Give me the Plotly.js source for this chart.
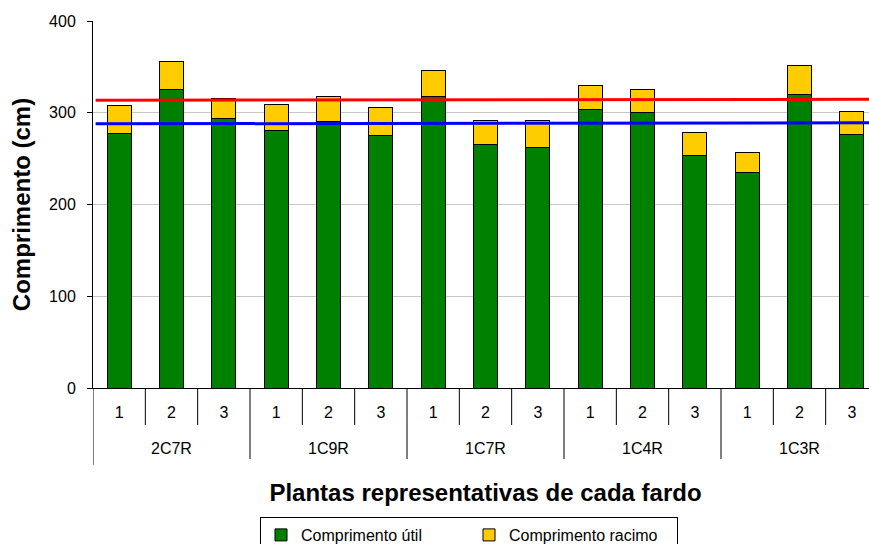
<!DOCTYPE html>
<html>
<head>
<meta charset="utf-8">
<script src="https://cdn.plot.ly/plotly-3.0.1.min.js"></script>
<style>
html,body{margin:0;padding:0;overflow:hidden;background:#fff;}
#chart{width:900px;height:544px;}
</style>
</head>
<body>
<div id="chart"></div>
<script>
// ---- data ----
var groups = ["2C7R", "1C9R", "1C7R", "1C4R", "1C3R"];
var subLabels = ["1","2","3","1","2","3","1","2","3","1","2","3","1","2","3"];
var util =    [277, 325, 294, 281, 291, 275.5, 318, 265.5, 262.5, 304, 300, 253, 235, 319.5, 276];
var racimo =  [31, 31, 21.5, 28.5, 27, 30, 28.5, 26, 29, 25.5, 25, 25.5, 21.5, 31.5, 25];
var redLine = [313.6, 314.7];
var blueLine = [287.9, 289.1];
var seriesNames = ["Comprimento útil", "Comprimento racimo"];

var FONT = "Liberation Sans, Arial, sans-serif";
var idx = subLabels.map(function(_, i){ return i; });
var n = subLabels.length;
var perGroup = n / groups.length;

var traces = [
  {type:"bar", x: idx, y: util, name: seriesNames[0], width: 0.46,
   marker:{color:"#008000", line:{color:"#000000", width:1}}, hoverinfo:"y"},
  {type:"bar", x: idx, y: racimo, name: seriesNames[1], width: 0.46,
   marker:{color:"#FFCC00", line:{color:"#000000", width:1}}, hoverinfo:"y"},
  {type:"scatter", mode:"lines", x:[-0.45, n - 0.5], y: redLine, showlegend:false,
   line:{color:"#FF0000", width:3}, hoverinfo:"skip"},
  {type:"scatter", mode:"lines", x:[-0.45, n - 0.5], y: blueLine, showlegend:false,
   line:{color:"#0000FF", width:3}, hoverinfo:"skip"}
];

// divider shapes below the axis
var H = 544, W = 900;
var plotH = 388 - 21;
function py(px){ return -(px - 388) / plotH; }
var shapes = [];
for (var b = 0; b <= n; b++) {
  var isGroup = (b % perGroup === 0);
  var bottom = (b === 0) ? 465 : (isGroup ? 459 : 425);
  shapes.push({type:"line", xref:"x", yref:"paper", x0: b - 0.5, x1: b - 0.5,
               y0: 0, y1: py(bottom), line:{color:"#000000", width:1}});
}

var annotations = groups.map(function(g, gi){
  return {text: g, xref:"x", yref:"paper", x: gi * perGroup + (perGroup - 1) / 2,
          y: py(448), yanchor:"middle", xanchor:"center", showarrow:false,
          font:{family: FONT, size:16, color:"#000"}};
});

var layout = {
  width: W, height: H,
  margin: {l: 93, r: 22, t: 21, b: 156, pad: 0},
  paper_bgcolor: "#ffffff", plot_bgcolor: "#ffffff",
  barmode: "stack",
  font: {family: FONT, color: "#000"},
  showlegend: true,
  legend: {orientation:"h", xref:"container", yref:"container",
           x: 260 / W, xanchor:"left", y: 1 - 517 / H, yanchor:"top",
           bordercolor:"#000000", borderwidth:1, bgcolor:"#ffffff",
           font:{family: FONT, size:16, color:"#000"}, entrywidth: 163, traceorder:"normal"},
  xaxis: {
    range: [-0.5, n - 0.5], tickmode:"array", tickvals: idx, ticktext: subLabels,
    ticks: "", showgrid: false, zeroline: false, showline: true, linecolor:"#000", linewidth:1,
    tickfont: {family: FONT, size: 16, color:"#000"}, ticklabelstandoff: 10,
    automargin: false,
    title: {text: "Plantas representativas de cada fardo", standoff: 63,
            font:{family: FONT, size: 24, color:"#000", weight: "bold"}},
    fixedrange: true
  },
  yaxis: {
    range: [0, 400], tickvals: [0,100,200,300,400], ticks:"outside", ticklen:5,
    tickcolor:"#000", showline:true, linecolor:"#000", linewidth:1,
    showgrid:true, gridcolor:"#c8c8c8", gridwidth:1, zeroline:false,
    tickfont:{family: FONT, size: 16, color:"#000"}, ticklabelstandoff: 8,
    automargin: false,
    title:{text:"Comprimento (cm)", standoff: 11,
           font:{family: FONT, size: 24, color:"#000", weight:"bold"}},
    fixedrange: true
  },
  shapes: shapes,
  annotations: annotations
};

Plotly.newPlot("chart", traces, layout, {displayModeBar:false, staticPlot:true});
</script>
</body>
</html>
